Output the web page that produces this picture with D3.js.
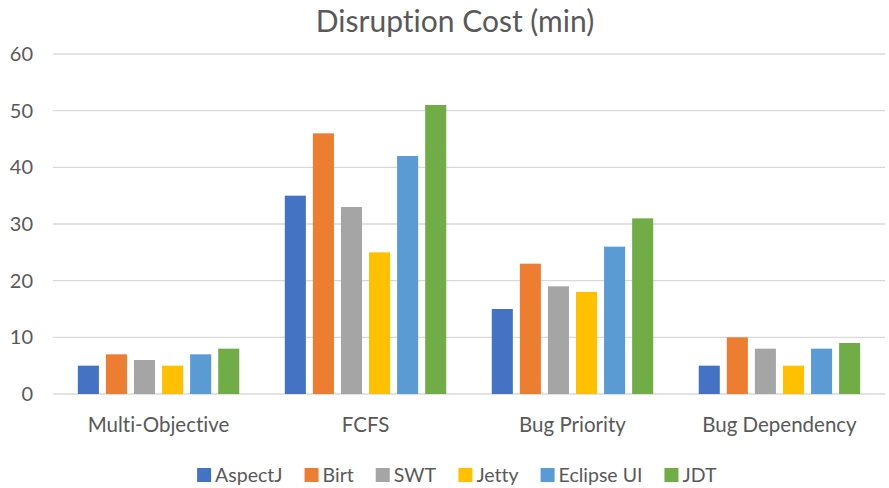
<!DOCTYPE html>
<html>
<head>
<meta charset="utf-8">
<script src="https://cdn.jsdelivr.net/npm/d3@7"></script>
<style>
  body { margin: 0; background: #fff; }
  text { font-family: Lato, "Open Sans", sans-serif; fill: #595959; font-variant-ligatures: none; }
</style>
</head>
<body>
<div id="chart"></div>
<script>
const categories = ["Multi-Objective", "FCFS", "Bug Priority", "Bug Dependency"];
const seriesNames = ["AspectJ", "Birt", "SWT", "Jetty", "Eclipse UI", "JDT"];
const aspectj   = [5, 35, 15, 5];
const birt      = [7, 46, 23, 10];
const swt       = [6, 33, 19, 8];
const jetty     = [5, 25, 18, 5];
const eclipseUi = [7, 42, 26, 8];
const jdt       = [8, 51, 31, 9];
const yTicks = [0, 10, 20, 30, 40, 50, 60];
const colors = ["#4472C4", "#ED7D31", "#A5A5A5", "#FFC000", "#5B9BD5", "#70AD47"];

const allSeries = [aspectj, birt, swt, jetty, eclipseUi, jdt];

const W = 889, H = 488;
const plotLeft = 53, plotRight = 885, plotTop = 54, plotBottom = 394;

const svg = d3.select("#chart").append("svg")
    .attr("width", W).attr("height", H);

// title
svg.append("text")
    .attr("x", 455).attr("y", 32)
    .attr("text-anchor", "middle")
    .style("font-size", "30px")
    .text("Disruption Cost (min)");

const x0 = d3.scaleBand().domain(categories).range([plotLeft, plotRight]).paddingInner(0.22).paddingOuter(0.12);
const x1 = d3.scaleBand().domain(seriesNames).range([0, x0.bandwidth()]).paddingInner(0.25).paddingOuter(0);
const y = d3.scaleLinear().domain([0, 60]).range([plotBottom, plotTop]);

// gridlines
svg.append("g")
    .selectAll("line")
    .data(yTicks)
    .join("line")
    .attr("x1", plotLeft).attr("x2", plotRight)
    .attr("y1", d => y(d)).attr("y2", d => y(d))
    .attr("stroke", "#d9d9d9")
    .attr("stroke-width", 1.3);

// y axis labels
svg.append("g")
    .selectAll("text")
    .data(yTicks)
    .join("text")
    .attr("x", 33).attr("y", d => y(d) + 7)
    .attr("text-anchor", "end")
    .style("font-size", "20px")
    .text(d => d);

// bars
const groups = svg.append("g")
    .selectAll("g")
    .data(categories)
    .join("g")
    .attr("transform", d => "translate(" + x0(d) + ",0)");

groups.selectAll("rect")
    .data((c, i) => seriesNames.map((s, j) => ({ s: s, v: allSeries[j][i], j: j })))
    .join("rect")
    .attr("x", d => x1(d.s))
    .attr("y", d => y(d.v))
    .attr("width", x1.bandwidth())
    .attr("height", d => y(0) - y(d.v))
    .attr("fill", d => colors[d.j]);

// x labels
svg.append("g")
    .selectAll("text")
    .data(categories)
    .join("text")
    .attr("x", d => x0(d) + x0.bandwidth() / 2)
    .attr("y", 432)
    .attr("text-anchor", "middle")
    .style("font-size", "20.5px")
    .text(d => d);

// legend
const legend = svg.append("g");
const items = legend.selectAll("g")
    .data(seriesNames)
    .join("g");
items.append("rect")
    .attr("width", 14).attr("height", 14)
    .attr("y", -14)
    .attr("fill", (d, i) => colors[i]);
items.append("text")
    .attr("x", 18).attr("y", 0)
    .style("font-size", "19.5px")
    .text(d => d);

let pos = 0;
items.each(function () {
    d3.select(this).attr("transform", "translate(" + pos + ",0)");
    pos += this.getBBox().width + 22;
});
pos -= 22;
legend.attr("transform", "translate(" + (457 - pos / 2) + ",482)");
</script>
</body>
</html>
